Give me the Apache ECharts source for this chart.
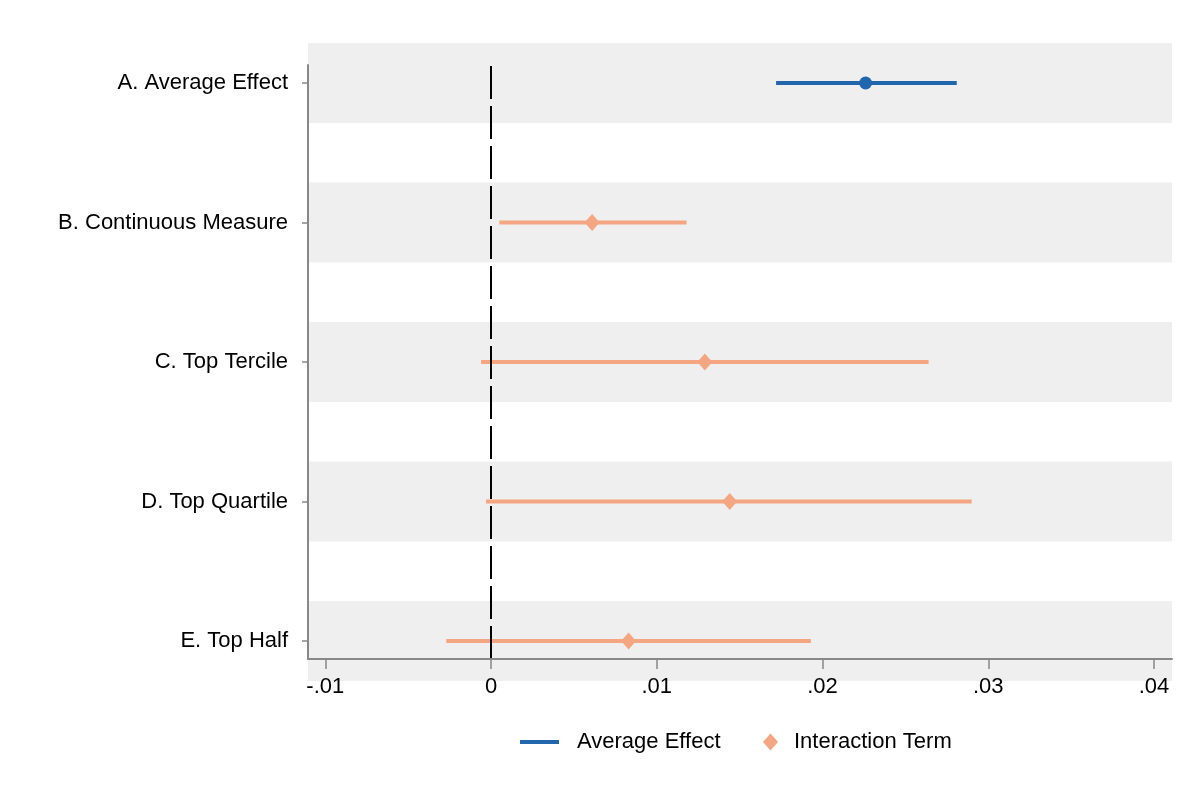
<!DOCTYPE html>
<html lang="en">
<head>
    <meta charset="utf-8">
    <title>Average effect and interaction terms</title>
    <script src="https://cdn.jsdelivr.net/npm/echarts@6/dist/echarts.min.js"></script>
    <style>
        html, body, #chart { width: 100%; height: 100%; margin: 0; padding: 0; overflow: hidden; background: #ffffff; }
    </style>
</head>
<body>
<div id="chart"></div>
<script type="text/javascript">
    // categories, top to bottom
    var categories = ['A. Average Effect', 'B. Continuous Measure', 'C. Top Tercile', 'D. Top Quartile', 'E. Top Half'];

    // A. average effect: point estimate and CI
    var avgEst = [0.0226];
    var avgLo = [0.0172];
    var avgHi = [0.0281];

    // B-E interaction terms
    var interEst = [0.0061, 0.0129, 0.0144, 0.0083];
    var interLo = [0.0005, -0.0006, -0.0003, -0.0027];
    var interHi = [0.0118, 0.0264, 0.0290, 0.0193];

    // x axis ticks
    var xTickValues = [-0.01, 0, 0.01, 0.02, 0.03, 0.04];
    var xTickLabels = ['-.01', '0', '.01', '.02', '.03', '.04'];

    var FONT = 'Helvetica, "Liberation Sans", Arial, sans-serif';
    var BLUE = '#2166ac';
    var SALMON = '#f4a582';
    var AXIS = '#888888';

    var nCat = categories.length;
    function yPos(i) { return nCat - i; }   // A on top

    var avgRows = [], avgPts = [];
    for (var i = 0; i < avgEst.length; i++) {
        avgRows.push([avgLo[i], avgHi[i], yPos(i)]);
        avgPts.push([avgEst[i], yPos(i)]);
    }
    var interRows = [], interPts = [];
    for (var j = 0; j < interEst.length; j++) {
        interRows.push([interLo[j], interHi[j], yPos(j + 1)]);
        interPts.push([interEst[j], yPos(j + 1)]);
    }
    var bandRows = categories.map(function (c, k) { return [yPos(k)]; });

    var xMin = -0.011041, xMax = 0.041086;
    var bandHalf = 0.2867;

    function ciRenderer(color) {
        return function (params, api) {
            var y = api.value(2);
            var p1 = api.coord([api.value(0), y]);
            var p2 = api.coord([api.value(1), y]);
            return {
                type: 'line',
                shape: { x1: p1[0], y1: p1[1], x2: p2[0], y2: p2[1] },
                style: { stroke: color, lineWidth: 4 }
            };
        };
    }

    var chart = echarts.init(document.getElementById('chart'), null, { renderer: 'canvas' });

    var option = {
        animation: false,
        backgroundColor: '#ffffff',
        textStyle: { fontFamily: FONT },
        legend: [
            {
                data: [{ name: 'Average Effect', icon: 'rect' }],
                left: 520, top: 731, padding: 0,
                itemWidth: 39, itemHeight: 4,
                textStyle: { fontFamily: FONT, fontSize: 22, color: '#000', padding: [0, 0, 0, 13] }
            },
            {
                data: [{ name: 'Interaction Term', icon: 'diamond' }],
                left: 763, top: 731, padding: 0,
                itemWidth: 15, itemHeight: 17,
                textStyle: { fontFamily: FONT, fontSize: 22, color: '#000', padding: [0, 0, 0, 11] }
            }
        ],
        grid: [
            { left: 308, right: 28, top: 43, bottom: 119 },   // shaded bands
            { left: 308, right: 28, top: 65, bottom: 141 }    // data + axes
        ],
        xAxis: [
            { gridIndex: 0, type: 'value', min: xMin, max: xMax, show: false },
            {
                gridIndex: 1, type: 'value', min: xMin, max: xMax, z: 5,
                splitLine: { show: false },
                axisLine: { show: true, onZero: false, lineStyle: { color: AXIS, width: 2 } },
                axisTick: { show: true, length: 10, customValues: xTickValues, lineStyle: { color: AXIS, width: 1.5 } },
                axisLabel: {
                    customValues: xTickValues, margin: 17,
                    fontFamily: FONT, fontSize: 22, color: '#000',
                    formatter: function (v) {
                        for (var k = 0; k < xTickValues.length; k++) {
                            if (Math.abs(v - xTickValues[k]) < 1e-9) return xTickLabels[k];
                        }
                        return '';
                    }
                }
            }
        ],
        yAxis: [
            { gridIndex: 0, type: 'value', min: 1 - bandHalf, max: nCat + bandHalf, show: false },
            {
                gridIndex: 1, type: 'value', min: 0.871, max: 5.129, z: 5,
                splitLine: { show: false },
                axisLine: { show: true, onZero: false, lineStyle: { color: AXIS, width: 2 } },
                axisTick: { show: true, length: 6, customValues: [1, 2, 3, 4, 5], lineStyle: { color: AXIS, width: 1.5 } },
                axisLabel: {
                    customValues: [1, 2, 3, 4, 5], margin: 20,
                    fontFamily: FONT, fontSize: 22, color: '#000',
                    formatter: function (v) {
                        var idx = nCat - Math.round(v);
                        return categories[idx] || '';
                    }
                }
            }
        ],
        series: [
            {
                type: 'custom', name: 'bands', xAxisIndex: 0, yAxisIndex: 0, z: 0,
                silent: true,
                data: bandRows,
                encode: { y: 0 },
                renderItem: function (params, api) {
                    var y = api.value(0);
                    var top = api.coord([0, y + bandHalf]);
                    var bot = api.coord([0, y - bandHalf]);
                    return {
                        type: 'rect',
                        shape: { x: params.coordSys.x, y: top[1], width: params.coordSys.width, height: bot[1] - top[1] },
                        style: { fill: '#efefef' }
                    };
                }
            },
            {
                type: 'custom', name: 'Average Effect', xAxisIndex: 1, yAxisIndex: 1, z: 3,
                itemStyle: { color: BLUE },
                data: avgRows,
                encode: { x: [0, 1], y: 2 },
                renderItem: ciRenderer(BLUE)
            },
            {
                type: 'custom', name: 'Interaction Term', xAxisIndex: 1, yAxisIndex: 1, z: 3,
                itemStyle: { color: SALMON },
                data: interRows,
                encode: { x: [0, 1], y: 2 },
                renderItem: ciRenderer(SALMON)
            },
            {
                type: 'scatter', name: 'Average Effect', xAxisIndex: 1, yAxisIndex: 1, z: 4,
                symbol: 'circle', symbolSize: 13,
                itemStyle: { color: BLUE, opacity: 1 },
                data: avgPts
            },
            {
                type: 'scatter', name: 'Interaction Term', xAxisIndex: 1, yAxisIndex: 1, z: 4,
                symbol: 'diamond', symbolSize: [15, 17],
                itemStyle: { color: SALMON, opacity: 1 },
                data: interPts,
                // dashed reference line at zero
                markLine: {
                    silent: true, symbol: 'none',
                    label: { show: false },
                    lineStyle: { color: '#000', width: 2, type: [33, 7], opacity: 1 },
                    data: [{ xAxis: 0 }]
                }
            }
        ]
    };

    chart.setOption(option);
</script>
</body>
</html>
